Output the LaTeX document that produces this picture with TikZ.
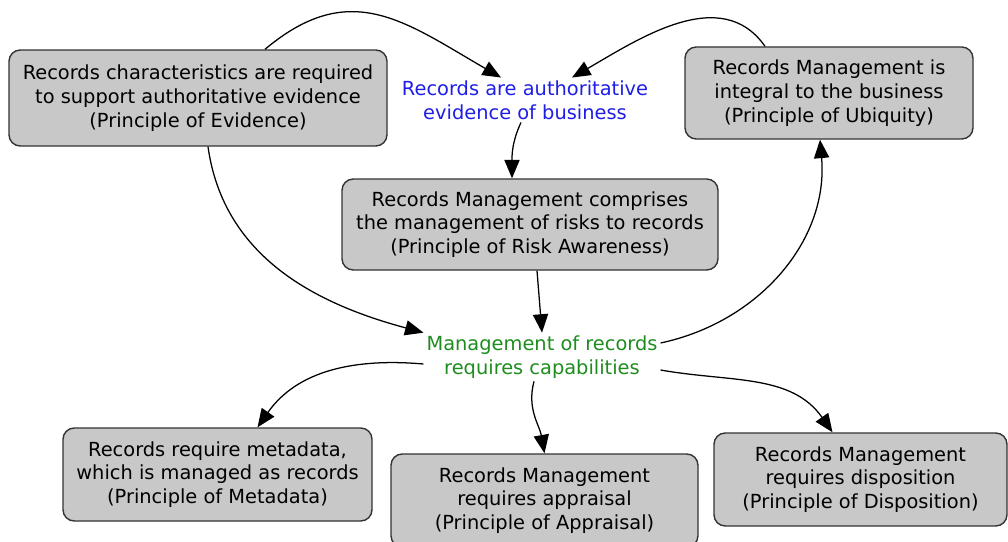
\documentclass[tikz,border=0pt]{standalone}
\usepackage{fontspec}
\setmainfont{DejaVu Sans}
\usepackage{xcolor}
\usepackage{tikz}
\usetikzlibrary{arrows.meta}

\definecolor{boxgray}{HTML}{C8C8C8}
\definecolor{edgegray}{HTML}{333333}
\definecolor{claimblue}{HTML}{1E1EE6}
\definecolor{claimgreen}{HTML}{1E8C1E}

\begin{document}
\begin{tikzpicture}[
    % Principle boxes - gray
    principle/.style={
        rectangle, draw=edgegray, rounded corners=8pt,
        align=center, fill=boxgray, inner sep=2pt,
        font=\fontsize{13.8}{16.9}\selectfont,
        line width=1pt
    },
    % Central statements - coloured text, no frame
    claim/.style={
        align=center, inner sep=2pt,
        font=\fontsize{13.8}{16.9}\selectfont
    },
    arrow/.style={-{Triangle[length=4.6mm, width=3.8mm]}, black, line width=0.9pt},
]
\useasboundingbox (0,0) rectangle (25.2,13.525);

% Top row
\node[principle, minimum width=9.45cm, minimum height=2.4cm] (evidence) at (4.95,11.075)
    {Records characteristics are required\\to support authoritative evidence\\(Principle of Evidence)};
\node[claim, text=claimblue] (authority) at (13.125,11.025)
    {Records are authoritative\\evidence of business};
\node[principle, minimum width=7.2cm, minimum height=2.3cm] (ubiquity) at (20.725,11.2)
    {Records Management is\\integral to the business\\(Principle of Ubiquity)};

% Middle
\node[principle, minimum width=9.4cm, minimum height=2.275cm] (risk) at (13.25,7.9125)
    {Records Management comprises\\the management of risks to records\\(Principle of Risk Awareness)};
\node[claim, text=claimgreen] (capab) at (13.55,4.6)
    {Management of records\\requires capabilities};

% Bottom row
\node[principle, minimum width=7.725cm, minimum height=2.325cm] (metadata) at (5.4375,1.6625)
    {Records require metadata,\\which is managed as records\\(Principle of Metadata)};
\node[principle, minimum width=7.675cm, minimum height=2.325cm] (appraisal) at (13.6125,1.0125)
    {Records Management\\requires appraisal\\(Principle of Appraisal)};
\node[principle, minimum width=7.325cm, minimum height=2.325cm] (disposition) at (21.5125,1.5375)
    {Records Management\\requires disposition\\(Principle of Disposition)};

% Arrows into the statement of authority
\draw[arrow] ([xshift=1.675cm]evidence.north) to[out=40, in=150, looseness=1.2] ([xshift=-0.6cm]authority.north);
\draw[arrow] ([xshift=-1.6cm]ubiquity.north) to[out=125, in=30] ([xshift=1.175cm]authority.north);
\draw[arrow] ([xshift=-0.1cm]authority.south) to[out=-115, in=90] ([xshift=-0.45cm]risk.north);

% Arrows into the capabilities
\draw[arrow] ([xshift=0.25cm]evidence.south) to[out=-82, in=165] (capab.north west);
\draw[arrow] ([xshift=0.175cm]risk.south) -- (capab.north);
\draw[arrow] ([yshift=0.35cm]capab.east) to[out=12, in=-85] ([xshift=-0.225cm]ubiquity.south);

% Arrows out of the capabilities
\draw[arrow] ([yshift=-0.175cm]capab.west) to[out=175, in=55] ([xshift=1cm]metadata.north);
\draw[arrow] ([xshift=-0.2cm]capab.south) to[out=-105, in=100] (appraisal.north);
\draw[arrow] ([yshift=-0.325cm]capab.east) to[out=-10, in=125] ([xshift=-0.7cm]disposition.north);

\end{tikzpicture}
\end{document}
